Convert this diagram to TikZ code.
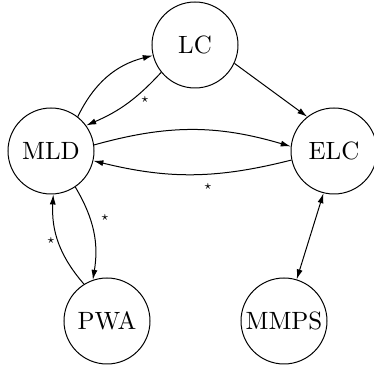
\documentclass[tikz,border=0pt]{standalone}
\usepackage{amsmath,amssymb}
\usetikzlibrary{arrows.meta}
\tikzset{
	state/.style={circle, draw, minimum size=34.4pt, inner sep=0pt},
	line/.style={draw, -{Latex[length=4pt, width=2.4pt]}},
	twoway/.style={draw, {Latex[length=4pt, width=2.4pt]}-{Latex[length=4pt, width=2.4pt]}},
	mark star/.style={font=\tiny}
}

\begin{document}
\begin{tikzpicture}[x=0.4pt, y=-0.4pt]
	\useasboundingbox (0,0) rectangle (374,371);
	% states
	\node[state] (LC) at (195,45) {LC};
	\node[state] (MLD) at (51,151) {MLD};
	\node[state] (ELC) at (334,151) {ELC};
	\node[state] (PWA) at (107,321) {PWA};
	\node[state] (MMPS) at (284,321) {MMPS};

	% transitions
	\path[line] (MLD.52) to[bend left=25] (LC.194);
	\path[line] (LC.219) to[bend left=12] (MLD.36);
	\path[line] (LC.-25) -- (ELC.128);
	\path[line] (MLD.8) to[bend left=16] (ELC.174);
	\path[line] (ELC.192) to[bend left=14] (MLD.-13);
	\path[line] (MLD.-56) to[bend left=20] (PWA.109);
	\path[line] (PWA.122) to[bend left=22] (MLD.-87);
	\path[twoway] (ELC.-104) -- (MMPS.73);

	% marks
	\node[mark star] (s1) at (145,100) {$\star$};
	\node[mark star] (s2) at (208,187) {$\star$};
	\node[mark star] (s3) at (105,218) {$\star$};
	\node[mark star] (s4) at (51,241) {$\star$};
\end{tikzpicture}
\end{document}
